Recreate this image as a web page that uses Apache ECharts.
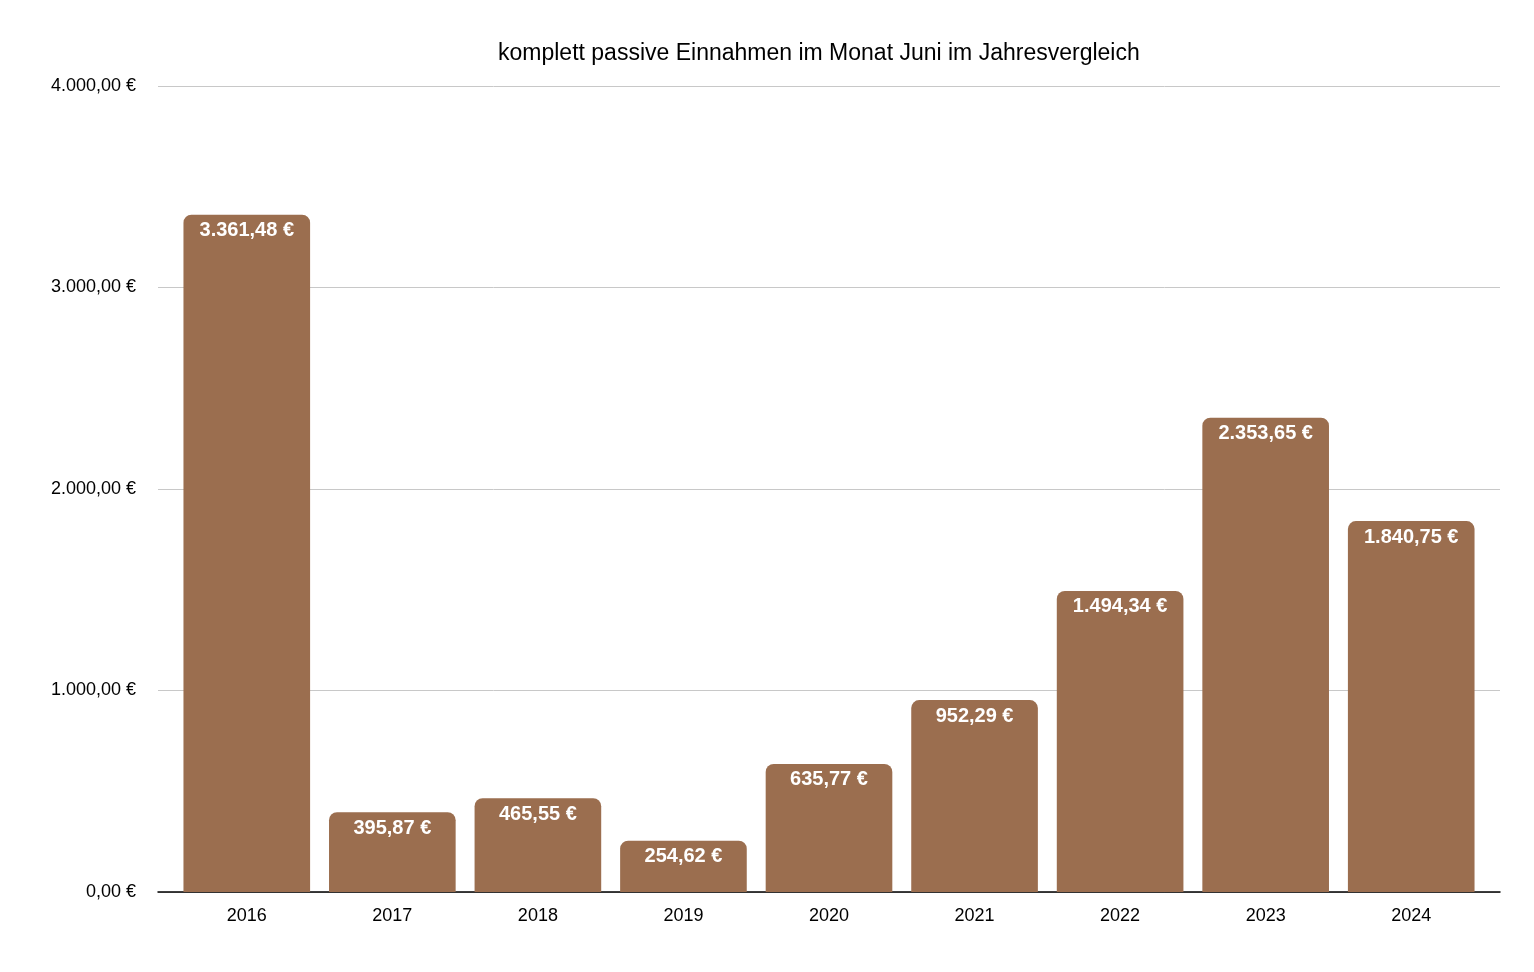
<!DOCTYPE html>
<html>
<head>
<meta charset="utf-8">
<script src="https://cdn.jsdelivr.net/npm/echarts@6/dist/echarts.min.js"></script>
<style>
  html, body { margin: 0; padding: 0; background: #fff; }
  #chart { width: 1534px; height: 972px; }
</style>
</head>
<body>
<div id="chart"></div>
<script>
// Jahre und Einnahmen
var years = ['2016', '2017', '2018', '2019', '2020', '2021', '2022', '2023', '2024'];
var values = [3361.48, 395.87, 465.55, 254.62, 635.77, 952.29, 1494.34, 2353.65, 1840.75];

function euro (v) {
  var parts = v.toFixed(2).split('.');
  var int = parts[0].replace(/\B(?=(\d{3})+(?!\d))/g, '.');
  return int + ',' + parts[1] + ' €';
}

var myChart = echarts.init(document.getElementById('chart'));

var option = {
  animation: false,
  textStyle: { fontFamily: 'Liberation Sans, Arial, sans-serif' },
  title: {
    text: 'komplett passive Einnahmen im Monat Juni im Jahresvergleich',
    left: 493,
    top: 37,
    textStyle: { fontSize: 23, fontWeight: 'normal', color: '#000' }
  },
  // grid 0: Achsen und Hilfslinien, grid 1: Balken
  grid: [
    { left: 158, right: 34, top: 86, bottom: 80 },
    { left: 174, right: 50, top: 86, bottom: 80 }
  ],
  xAxis: [{
    type: 'category',
    gridIndex: 0,
    data: [''],
    axisLine: { lineStyle: { color: '#000', width: 1.5 } },
    axisTick: { show: false },
    axisLabel: { show: false }
  }, {
    type: 'category',
    gridIndex: 1,
    data: years,
    axisLine: { show: false },
    axisTick: { show: false },
    axisLabel: { color: '#000', fontSize: 18, margin: 15 }
  }],
  yAxis: [{
    type: 'value',
    gridIndex: 0,
    min: 0,
    max: 4000,
    interval: 1000,
    axisLabel: {
      color: '#000',
      fontSize: 18,
      margin: 22,
      formatter: function (v) { return euro(v); }
    },
    splitLine: { lineStyle: { color: '#c8c8c8' } }
  }, {
    type: 'value',
    gridIndex: 1,
    min: 0,
    max: 4000,
    interval: 1000,
    axisLabel: { show: false },
    splitLine: { show: false }
  }],
  series: [{
    type: 'bar',
    xAxisIndex: 1,
    yAxisIndex: 1,
    data: values,
    barWidth: '87%',
    itemStyle: { color: '#9b6e4f', borderRadius: [8, 8, 0, 0] },
    label: {
      show: true,
      position: 'insideTop',
      distance: 6,
      color: '#fff',
      fontSize: 20,
      fontWeight: 'bold',
      formatter: function (p) { return euro(p.value); }
    }
  }]
};

myChart.setOption(option);
window.addEventListener('resize', function () {
  myChart.resize();
});
</script>
</body>
</html>
